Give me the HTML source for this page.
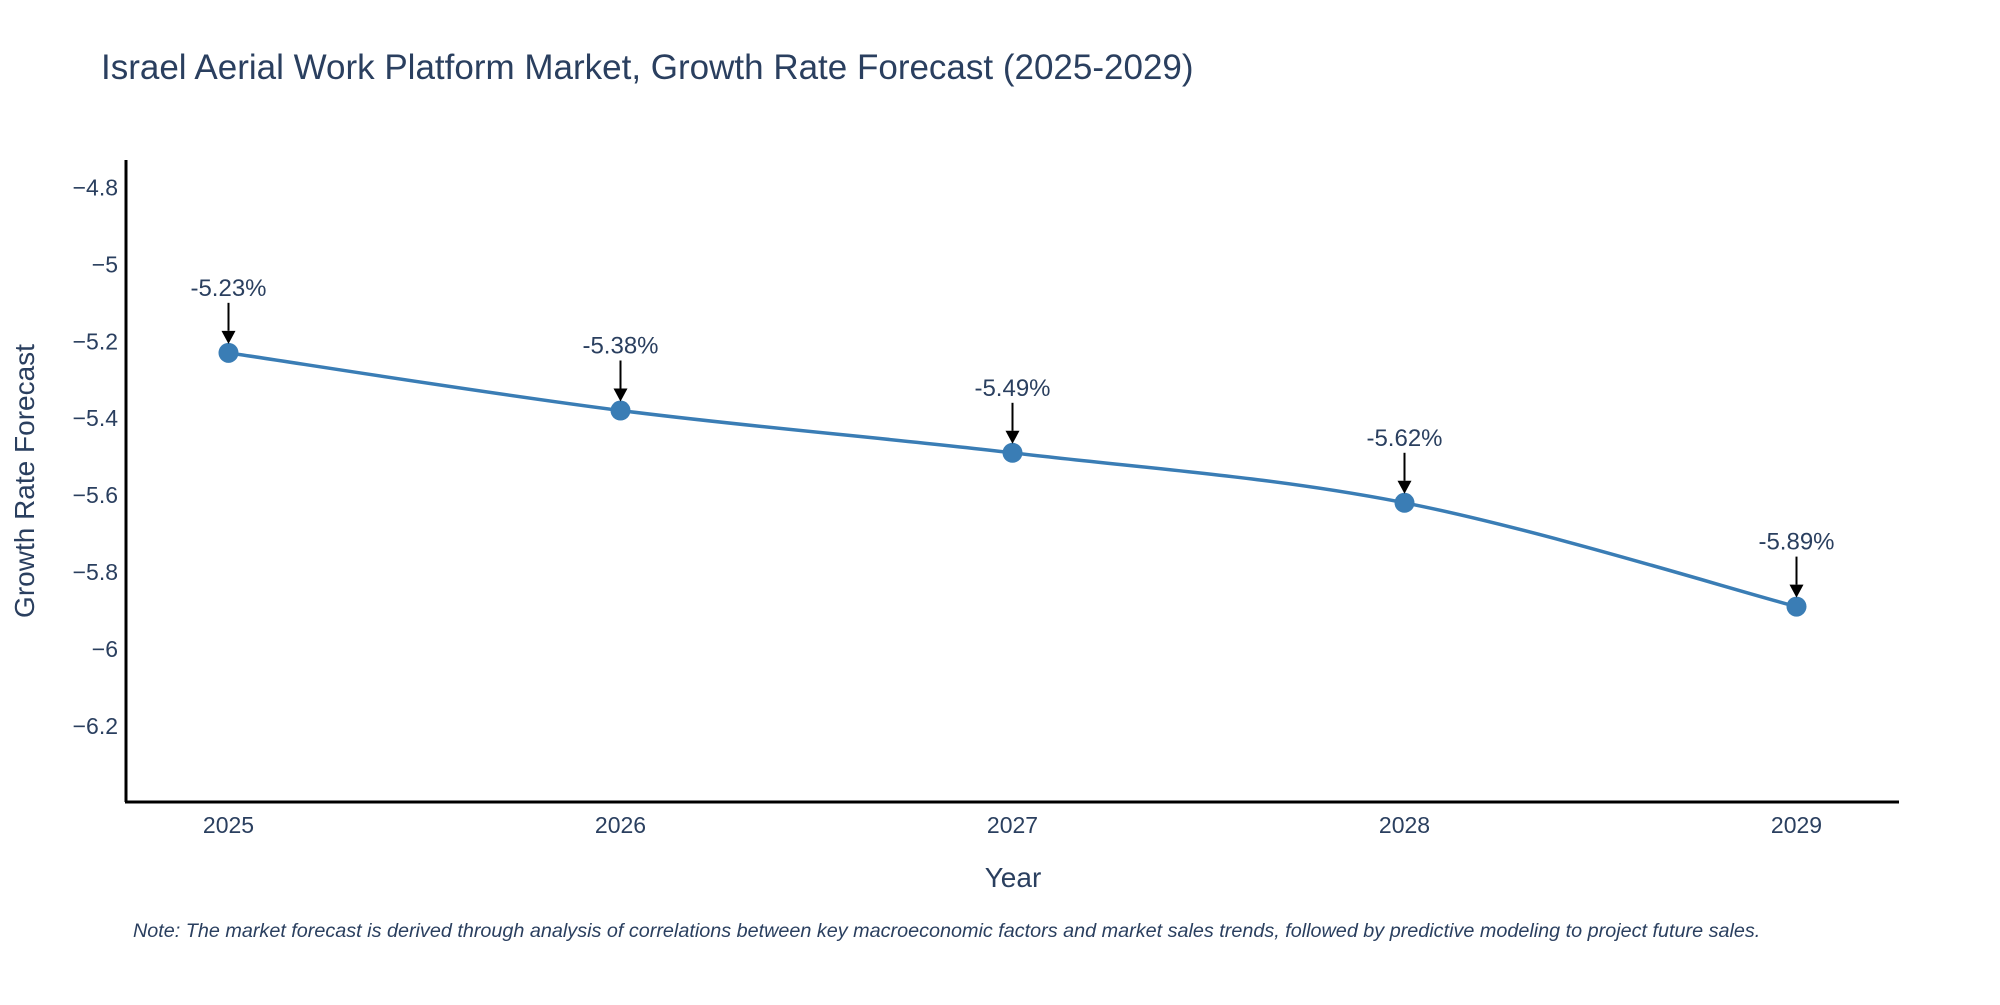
<!DOCTYPE html>
<html><head><meta charset="utf-8"><style>
body{margin:0;background:#fff}
svg text{font-family:"Liberation Sans","DejaVu Sans",sans-serif;fill:#2a3f5f}
</style></head><body>
<svg id="chart" width="2000" height="1000" viewBox="0 0 2000 1000" xmlns="http://www.w3.org/2000/svg">
<text x="101" y="79" font-size="35">Israel Aerial Work Platform Market, Growth Rate Forecast (2025-2029)</text>
<line x1="126" y1="160" x2="126" y2="802" stroke="#000" stroke-width="3"/>
<line x1="125" y1="802" x2="1899" y2="802" stroke="#000" stroke-width="3"/>
<g id="yticks"></g><g id="xticks"></g>
<path id="line" fill="none" stroke="#3a7db5" stroke-width="3.5"/>
<g id="points"></g><g id="annos"></g>
<text x="1013" y="887" font-size="28" text-anchor="middle">Year</text>
<text transform="translate(34,481) rotate(-90)" font-size="28" text-anchor="middle">Growth Rate Forecast</text>
<text x="133" y="937" font-size="19.8" font-style="italic">Note: The market forecast is derived through analysis of correlations between key macroeconomic factors and market sales trends, followed by predictive modeling to project future sales.</text>
</svg>
<script>
const years=[2025,2026,2027,2028,2029];
const values=[-5.23,-5.38,-5.49,-5.62,-5.89];
const labels=["-5.23%","-5.38%","-5.49%","-5.62%","-5.89%"];
const yTicks=[-4.8,-5,-5.2,-5.4,-5.6,-5.8,-6,-6.2];
const yTickLabels=["\u22124.8","\u22125","\u22125.2","\u22125.4","\u22125.6","\u22125.8","\u22126","\u22126.2"];
const NS="http://www.w3.org/2000/svg";
function X(yr){return 228.5+(yr-2025)*392;}
function Y(v){return 187.5+(-4.8-v)*384.5;}
function mk(tag,attrs,parent){const e=document.createElementNS(NS,tag);for(const k in attrs)e.setAttribute(k,attrs[k]);parent.appendChild(e);return e;}
const yt=document.getElementById('yticks');
yTicks.forEach((t,i)=>{const e=mk('text',{x:118,y:Y(t)+8,'font-size':23,'text-anchor':'end'},yt);


e.textContent=yTickLabels[i];});
const xt=document.getElementById('xticks');
years.forEach(yr=>{const e=mk('text',{x:X(yr),y:833,'font-size':23,'text-anchor':'middle'},xt);


e.textContent=yr;});
const pts=years.map((yr,i)=>[X(yr),Y(values[i])]);
let d='M'+pts[0][0]+','+pts[0][1];const t=0.17;
for(let i=0;i<pts.length-1;i++){const p0=pts[Math.max(0,i-1)],p1=pts[i],p2=pts[i+1],p3=pts[Math.min(pts.length-1,i+2)];
const c1=[p1[0]+(p2[0]-p0[0])*t,p1[1]+(p2[1]-p0[1])*t],c2=[p2[0]-(p3[0]-p1[0])*t,p2[1]-(p3[1]-p1[1])*t];
d+=' C'+c1+' '+c2+' '+p2;}
document.getElementById('line').setAttribute('d',d);
const pg=document.getElementById('points'),ag=document.getElementById('annos');
pts.forEach((p,i)=>{const c=mk('circle',{cx:p[0],cy:p[1],r:10,fill:'#3a7db5'},pg);


const l=mk('line',{x1:p[0],y1:p[1]-50,x2:p[0],y2:p[1]-22,stroke:'#000','stroke-width':2},ag);


const h=mk('path',{d:`M${p[0]-7},${p[1]-22} L${p[0]+7},${p[1]-22} L${p[0]},${p[1]-9} Z`,fill:'#000'},ag);


const tx=mk('text',{x:p[0],y:p[1]-57,'font-size':24,'text-anchor':'middle'},ag);


tx.textContent=labels[i];});
</script>
</body></html>
